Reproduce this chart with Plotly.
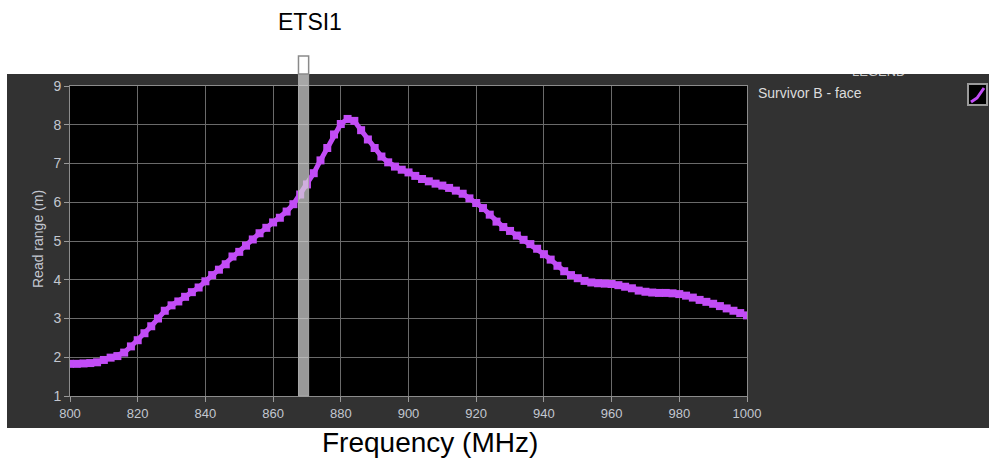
import plotly.graph_objects as go

# ---- data ----
freq_mhz = list(range(800, 1001, 2))
read_range_m = [
    1.83, 1.83, 1.84, 1.85, 1.87, 1.93, 1.99, 2.03, 2.12, 2.28,
    2.44, 2.62, 2.80, 3.00, 3.20, 3.34, 3.44, 3.56, 3.68, 3.80,
    3.96, 4.12, 4.26, 4.40, 4.60, 4.72, 4.88, 5.04, 5.20, 5.34,
    5.48, 5.60, 5.76, 5.95, 6.20, 6.46, 6.75, 7.08, 7.40, 7.75,
    8.02, 8.15, 8.10, 7.86, 7.62, 7.40, 7.18, 7.03, 6.92, 6.84,
    6.77, 6.68, 6.60, 6.54, 6.48, 6.43, 6.37, 6.30, 6.22, 6.10,
    5.98, 5.85, 5.68, 5.50, 5.36, 5.26, 5.14, 5.03, 4.92, 4.80,
    4.66, 4.52, 4.36, 4.22, 4.12, 4.04, 3.97, 3.93, 3.91, 3.90,
    3.89, 3.86, 3.82, 3.78, 3.72, 3.69, 3.67, 3.66, 3.66, 3.65,
    3.63, 3.59, 3.54, 3.48, 3.43, 3.38, 3.32, 3.26, 3.20, 3.14,
    3.08,
]
series_name = "Survivor B - face"
band_name = "ETSI1"
band_mhz = [867.5, 870.5]
x_ticks = [800, 820, 840, 860, 880, 900, 920, 940, 960, 980, 1000]
y_ticks = [1, 2, 3, 4, 5, 6, 7, 8, 9]

PURPLE = "#c24cf6"
PANEL = "#323232"
GRID = "#6a6a6a"
TICKCOL = "#c3c7d0"
FONT = "Liberation Sans, Arial"

fig = go.Figure()
fig.add_trace(go.Scatter(
    x=freq_mhz, y=read_range_m, name=series_name, mode="lines+markers",
    line=dict(color=PURPLE, width=5),
    marker=dict(symbol="square", size=8, color=PURPLE),
    showlegend=False, hoverinfo="x+y",
))

W, H = 989, 459
L, R, T, B = 70, 242, 86, 63
pw, ph = W - L - R, H - T - B

def px(xp):
    return (xp - L) / pw

def py(yp):
    return (H - B - yp) / ph

shapes = [
    # dark panel
    dict(type="rect", xref="paper", yref="paper", x0=px(7), x1=px(995),
         y0=py(428), y1=py(74), fillcolor=PANEL, line=dict(width=0), layer="below"),
    # black plot area
    dict(type="rect", xref="paper", yref="paper", x0=0, x1=1, y0=0, y1=1,
         fillcolor="black", line=dict(width=0), layer="below"),
    # ETSI band inside panel
    dict(type="rect", xref="x", yref="paper", x0=band_mhz[0], x1=band_mhz[1],
         y0=0, y1=py(74), fillcolor="rgba(212,212,212,0.72)",
         line=dict(color="#a8a8a8", width=1), layer="above"),
    # ETSI band marker above panel
    dict(type="rect", xref="x", yref="paper", x0=band_mhz[0], x1=band_mhz[1],
         y0=py(74), y1=py(56), fillcolor="white",
         line=dict(color="#8a8a8a", width=1.5), layer="above"),
    # legend icon box
    dict(type="rect", xref="paper", yref="paper", x0=px(968), x1=px(987),
         y0=py(105), y1=py(84), fillcolor="black",
         line=dict(color="#9a9a9a", width=2), layer="above"),
    dict(type="path", xref="paper", yref="paper",
         path=f"M {px(971)} {py(102)} L {px(977)} {py(98)} L {px(984)} {py(88)}",
         line=dict(color=PURPLE, width=3), layer="above"),
]

def ann(text, x, y, size, color, **kw):
    d = dict(text=text, xref="paper", yref="paper", x=px(x), y=py(y),
             xanchor="center", yanchor="middle", showarrow=False,
             font=dict(family=FONT, size=size, color=color))
    d.update(kw)
    return d

annotations = [
    ann(band_name, 310, 22, 23, "black"),
    ann("Frequency (MHz)", 430, 442, 28, "black"),
    ann("Read range (m)", 38, 239, 14, TICKCOL, textangle=-90),
    ann(series_name, 756, 93, 14, "#dcdcdc", xanchor="left"),
    ann("LEGEND", 878, 71, 13, "#c8c8c8"),
]
# white cover clipping the legend header at the panel top
annotations.append(dict(text=" ", xref="paper", yref="paper", x=px(878), y=py(74),
                        xanchor="center", yanchor="bottom", showarrow=False,
                        width=120, height=30, bgcolor="white",
                        borderpad=0, borderwidth=0))

axis_common = dict(
    showgrid=True, gridcolor=GRID, gridwidth=1,
    showline=True, linecolor="#8c8c8c", linewidth=1, mirror=True,
    ticks="outside", ticklen=5, tickcolor="#9a9a9a",
    zeroline=False,
)

fig.update_layout(
    width=W, height=H,
    margin=dict(l=L, r=R, t=T, b=B, autoexpand=False),
    paper_bgcolor="white", plot_bgcolor="black",
    xaxis=dict(range=[800, 1000], tickvals=x_ticks,
               tickfont=dict(family=FONT, size=13, color=TICKCOL), **axis_common),
    yaxis=dict(range=[1, 9], tickvals=y_ticks,
               tickfont=dict(family=FONT, size=14, color=TICKCOL), **axis_common),
    shapes=shapes, annotations=annotations,
)

fig.write_html(
    "out.html",
    config={"displayModeBar": False},
    post_script="document.body.style.margin='0';document.body.style.overflow='hidden';",
)
